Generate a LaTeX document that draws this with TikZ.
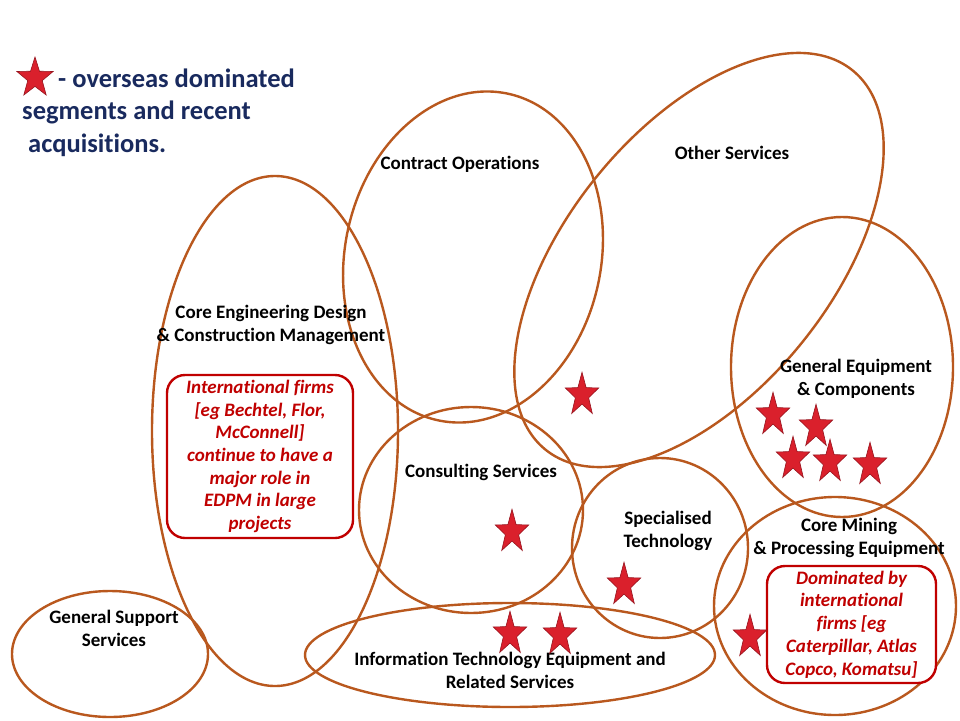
\documentclass[tikz,border=0pt]{standalone}
\usepackage{fontspec}
\setmainfont{Carlito}[Ligatures=NoCommon]
\usetikzlibrary{shapes.geometric}
\definecolor{ellc}{RGB}{185,88,30}
\definecolor{navy}{RGB}{25,42,94}
\definecolor{boxred}{RGB}{192,0,0}
\definecolor{starfill}{RGB}{218,32,44}
\definecolor{stardraw}{RGB}{150,20,30}
\begin{document}
\begin{tikzpicture}[x=1pt,y=-1pt,
  seg/.style={ellipse, draw=ellc, line width=2.4pt, inner sep=0pt},
  lbl/.style={font=\bfseries\fontsize{19}{23}\selectfont, align=center, inner sep=0pt, text=black},
  note/.style={draw=boxred, line width=2.4pt, rounded corners=18pt, fill=white, text=boxred,
    font=\bfseries\itshape\fontsize{19}{22.7}\selectfont, align=center, inner sep=0pt},
  redstar/.style={star, star points=5, star point ratio=2.5, minimum size=35pt, inner sep=0pt,
    fill=starfill, draw=stardraw, line width=0.6pt, yscale=1.3},
  legend/.style={font=\bfseries\fontsize{26.5}{32}\selectfont, text=navy, inner sep=0pt, anchor=base west}]
\useasboundingbox[fill=white] (0,0) rectangle (960,720);

% segments (ellipses)
\node[seg, minimum width=246pt, minimum height=510pt] (eng) at (275,431) {};
\node[seg, minimum width=256pt, minimum height=334pt, rotate=-12] (con) at (473,257) {};
\node[seg, minimum width=488pt, minimum height=264pt, rotate=51] (oth) at (699,260) {};
\node[seg, minimum width=222pt, minimum height=300pt] (geq) at (842,367) {};
\node[seg, minimum width=224pt, minimum height=206pt] (cs) at (471,510) {};
\node[seg, minimum width=176pt, minimum height=180pt] (spt) at (660,548) {};
\node[seg, minimum width=242pt, minimum height=218pt] (cmp) at (835,606) {};
\node[seg, minimum width=410pt, minimum height=104pt] (it) at (510,655) {};
\node[seg, minimum width=196pt, minimum height=126pt] (gss) at (110,654) {};

% notes
\node[note, minimum width=186pt, minimum height=163pt] (n1) at (260,456.5)
  {International firms\\{[}eg Bechtel, Flor,\\McConnell{]}\\continue to have a\\major role in\\EDPM in large\\projects};
\node[note, minimum width=169pt, minimum height=117pt] (n2) at (851.5,624.5)
  {Dominated by\\international\\firms {[}eg\\Caterpillar, Atlas\\Copco, Komatsu{]}};

% labels
\node[lbl] (lcon) at (460,164) {Contract Operations};
\node[lbl] (loth) at (732,153) {Other Services};
\node[lbl] (leng) at (271,325) {Core Engineering Design\\\& Construction Management};
\node[lbl] (lgeq) at (856,379) {General Equipment\\\& Components};
\node[lbl] (lcs) at (481,472) {Consulting Services};
\node[lbl] (lspt) at (668,531) {Specialised\\Technology};
\node[lbl] (lcmp) at (849,538) {Core Mining\\\& Processing Equipment};
\node[lbl] (lgss) at (114,628) {General Support\\Services};
\node[lbl] (lit) at (510,670) {Information Technology Equipment and\\Related Services};

% legend
\node[redstar, minimum size=38pt, yscale=0.85] (legstar) at (35,78) {};
\node[legend] (leg1) at (58,87) {- overseas dominated};
\node[legend] (leg2) at (22,119) {segments and recent};
\node[legend] (leg3) at (28,152) {acquisitions.};

% stars
\node[redstar] (s1) at (582,395) {};
\node[redstar] (s2) at (773,415) {};
\node[redstar] (s3) at (816,427) {};
\node[redstar] (s4) at (793,459) {};
\node[redstar] (s5) at (830,462) {};
\node[redstar] (s6) at (870,465) {};
\node[redstar] (s7) at (512,532) {};
\node[redstar] (s8) at (624,585) {};
\node[redstar] (s9) at (510,634) {};
\node[redstar] (s10) at (560,635) {};
\node[redstar] (s11) at (750,637) {};
\end{tikzpicture}
\end{document}
